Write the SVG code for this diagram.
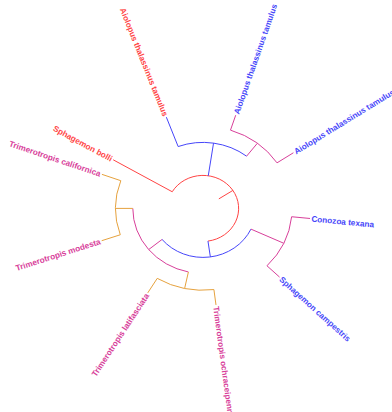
<svg xmlns="http://www.w3.org/2000/svg" width="392" height="412" viewBox="0 0 392 412">
<style>
.e{fill:none;stroke-width:1;stroke-linecap:butt}
.r{stroke:#FF4444}.b{stroke:#4646FA}.p{stroke:#D8409A}.o{stroke:#E6A23E}
text{font-family:"Liberation Sans",Arial,sans-serif;font-size:8.2px;font-weight:bold}
.tr{fill:#FF4444}.tb{fill:#4646FA}.tp{fill:#D8409A}
</style>
<rect width="392" height="412" fill="#FFFFFF"/>
<g id="connectors">
<path class="e r" d="M218.85,198.87 L232.89,190.43"/>
<path class="e r" d="M172.23,191.75 A35.64,33 0 1 1 207.96,241.08"/>
<path class="e r" d="M172.23,191.75 L113.2,159.8"/>
<path class="e b" d="M208.27,175.76 L213.54,143.13"/>
<path class="e b" d="M178.15,146.54 A71.28,66 0 0 1 246.59,156.18"/>
<path class="e b" d="M178.15,146.54 L166.37,117.2"/>
<path class="e p" d="M246.59,156.18 L257.35,143.28"/>
<path class="e p" d="M230.47,130.13 A88.88,82.3 0 0 1 277.03,162.85"/>
<path class="e p" d="M230.47,130.13 L235.71,115.19"/>
<path class="e p" d="M277.03,162.85 L293.4,152.78"/>
<path class="e b" d="M207.96,241.08 L210.37,256.92"/>
<path class="e b" d="M250.96,229.11 A52.92,49 0 0 1 162.05,239.44"/>
<path class="e p" d="M250.96,229.11 L283.75,243.26"/>
<path class="e p" d="M291.64,216.74 A89.1,82.5 0 0 1 266.98,265.81"/>
<path class="e p" d="M291.64,216.74 L310.02,218.47"/>
<path class="e p" d="M266.98,265.81 L279.55,277.09"/>
<path class="e p" d="M162.05,239.44 L148.68,249.57"/>
<path class="e p" d="M188.4,271.98 A70.2,65 0 0 1 132.8,208.4"/>
<path class="e o" d="M132.8,208.4 L115.52,208.4"/>
<path class="e o" d="M120.29,234.77 A87.48,81 0 0 1 120.8,180.7"/>
<path class="e o" d="M120.8,180.7 L101.92,174.34"/>
<path class="e o" d="M120.29,234.77 L101.7,240.7"/>
<path class="e o" d="M188.4,271.98 L184.63,288.41"/>
<path class="e o" d="M213.92,289.57 A88.34,81.8 0 0 1 157.24,278.37"/>
<path class="e o" d="M157.24,278.37 L147.73,292.91"/>
<path class="e o" d="M213.92,289.57 L215.99,304.95"/>
</g>
<g id="tip-sphagemon-bolli"><text class="tr" text-anchor="end" dy="3" transform="translate(111.88,159.09) rotate(28.4)">Sphagemon bolli</text></g>
<g id="tip-aiolopus-red"><text class="tr" text-anchor="end" dy="3" transform="translate(165.81,115.81) rotate(68.1)">Aiolopus thalassinus tamulus</text></g>
<g id="tip-aiolopus-blue-1"><text class="tb" dy="3" transform="translate(236.2,113.77) rotate(-70.7)">Aiolopus thalassinus tamulus</text></g>
<g id="tip-aiolopus-blue-2"><text class="tb" dy="3" transform="translate(294.68,151.99) rotate(-31.6)">Aiolopus thalassinus tamulus</text></g>
<g id="tip-conozoa-texana"><text class="tb" dy="3" transform="translate(311.51,218.61) rotate(5.4)">Conozoa texana</text></g>
<g id="tip-sphagemon-campestris"><text class="tb" dy="3" transform="translate(280.67,278.09) rotate(41.9)">Sphagemon campestris</text></g>
<g id="tip-trimerotropis-ochraceipennis"><text class="tp" dy="3" transform="translate(216.19,306.44) rotate(82.3)">Trimerotropis ochraceipennis</text></g>
<g id="tip-trimerotropis-latifasciata"><text class="tp" text-anchor="end" dy="3" transform="translate(146.91,294.17) rotate(-56.8)">Trimerotropis latifasciata</text></g>
<g id="tip-trimerotropis-modesta"><text class="tp" text-anchor="end" dy="3" transform="translate(100.27,241.16) rotate(-17.7)">Trimerotropis modesta</text></g>
<g id="tip-trimerotropis-californica"><text class="tp" text-anchor="end" dy="3" transform="translate(100.5,173.86) rotate(18.6)">Trimerotropis californica</text></g>
</svg>
